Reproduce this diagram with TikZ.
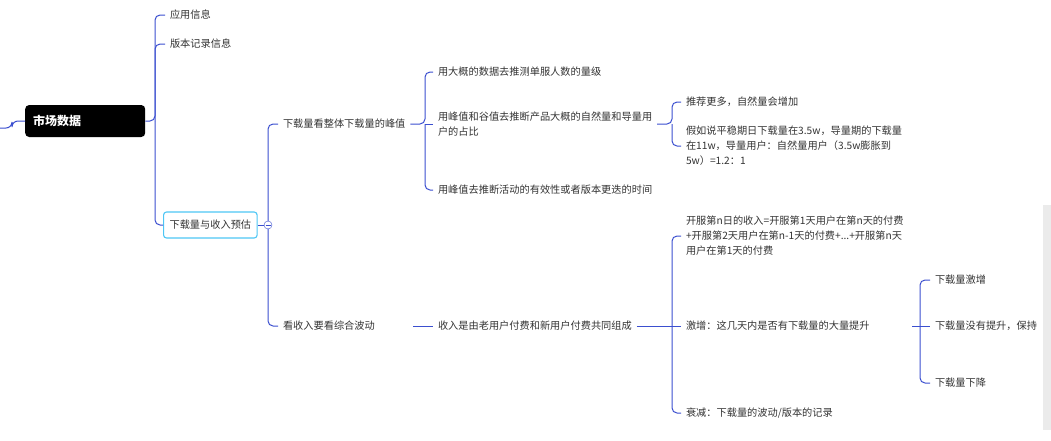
\documentclass[tikz,border=0pt]{standalone}
\usepackage{fontspec}
\setmainfont{Noto Sans CJK SC}
\definecolor{lc}{HTML}{3B4FCF}
\begin{document}
\begin{tikzpicture}[x=1pt,y=-1pt,
  br/.style={draw=lc,line width=1pt,rounded corners=5pt},
  ln/.style={draw=lc,line width=1pt},
  t/.style={anchor=west,inner sep=0pt,outer xsep=5pt,font=\fontsize{10.2}{15}\selectfont,text=black!80,align=left}]
\useasboundingbox (0,0) rectangle (1051,440);
\fill[black!8] (1043,205) rectangle (1051,430);
\node[fill=black,rounded corners=4pt,minimum width=120pt,minimum height=32pt,anchor=west,text=white,font=\bfseries\fontsize{12}{14}\selectfont,text width=104pt] (root) at (25,121) {市场数据};
\coordinate (l0) at (0,128);
\draw[ln,rounded corners=6pt] (l0) -- (12,128) -- (12,121) -- (root.west);
\node[t] (a1) at (165,15) {应用信息};
\node[t] (a2) at (165,44) {版本记录信息};
\node[draw=cyan!70,line width=1.1pt,rounded corners=3pt,anchor=west,font=\fontsize{10.2}{13}\selectfont,text=black!80,minimum height=26pt,inner xsep=6pt] (a3) at (163,225) {下载量与收入预估};
\draw[br] (root.east) -- (155,121) |- (a1.west);
\draw[br] (155,121) |- (a2.west);
\draw[br] (155,121) |- (a3.west);
\node[draw=lc,fill=white,circle,inner sep=0pt,minimum size=8pt] (c) at (268,225) {};
\draw[lc,line width=0.6pt] (265.5,225) -- (270.5,225);
\draw[ln] (a3.east) -- (c.west);
\node[t] (b1) at (278,124) {下载量看整体下载量的峰值};
\node[t] (b2) at (278,326) {看收入要看综合波动};
\draw[br] (c.north) |- (b1.west);
\draw[br] (c.south) |- (b2.west);
% peak branch
\node[t] (d1) at (433,72) {用大概的数据去推测单服人数的量级};
\node[t] (d2) at (433,124) {用峰值和谷值去推断产品大概的自然量和导量用\\户的占比};
\node[t] (d3) at (433,190) {用峰值去推断活动的有效性或者版本更迭的时间};
\draw[br] (b1.east) -- (425,124) |- (d1.west);
\draw[br] (425,124) |- (d3.west);
\draw[ln] (425,124) -- (d2.west);
\node[t] (e1) at (681,102) {推荐更多，自然量会增加};
\node[t] (e2) at (681,146) {假如说平稳期日下载量在3.5w，导量期的下载量\\在11w，导量用户：自然量用户（3.5w膨胀到\\5w）=1.2：1};
\draw[br] (d2.east) -- (672,124) |- (e1.west);
\draw[br] (672,124) |- (e2.west);
% revenue branch
\node[t] (f1) at (433,326) {收入是由老用户付费和新用户付费共同组成};
\coordinate (fs) at (413,326);
\draw[ln] (fs) -- (f1.west);
\node[t] (g1) at (681,236) {开服第n日的收入=开服第1天用户在第n天的付费\\+开服第2天用户在第n-1天的付费+...+开服第n天\\用户在第1天的付费};
\node[t] (g2) at (681,326) {激增：这几天内是否有下载量的大量提升};
\node[t] (g3) at (681,413) {衰减：下载量的波动/版本的记录};
\draw[ln] (f1.east) -- (g2.west);
\draw[br] (672,326) |- (g1.west);
\draw[br] (672,326) |- (g3.west);
\node[t] (h1) at (930,280) {下载量激增};
\node[t] (h2) at (930,326) {下载量没有提升，保持};
\node[t] (h3) at (930,383) {下载量下降};
\coordinate (hs) at (912,326);
\draw[ln] (hs) -- (h2.west);
\draw[br] (920,326) |- (h1.west);
\draw[br] (920,326) |- (h3.west);
\end{tikzpicture}
\end{document}
